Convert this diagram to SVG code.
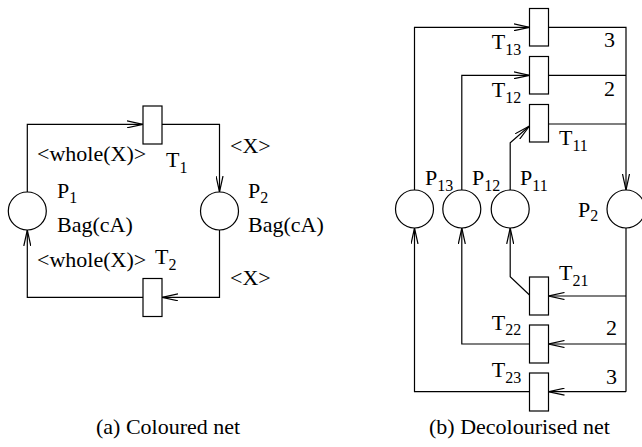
<svg xmlns="http://www.w3.org/2000/svg" width="642" height="447" viewBox="0 0 642 447">
<style>
text{font-family:"Liberation Serif","Times New Roman",serif;font-size:22px;fill:#000}
.sub{font-size:16px}
.place{fill:#fff;stroke:#000;stroke-width:1.2}
.trans{fill:#fff;stroke:#000;stroke-width:1.2}
.arc{fill:none;stroke:#000;stroke-width:1.2}
.arr{marker-end:url(#ah)}
</style>
<defs>
<marker id="ah" viewBox="0 0 16 8" refX="16" refY="4" markerWidth="16" markerHeight="8" orient="auto" markerUnits="userSpaceOnUse">
<path d="M0,0.5 L16,4 L0,7.5" fill="none" stroke="#000" stroke-width="1.2"/>
</marker>
</defs>
<rect width="642" height="447" fill="#fff"/>

<g id="connectors">
<!-- (a) -->
<path class="arc arr" d="M27.3,192 V124.3 H143"/>
<path class="arc arr" d="M162,124.3 H219.5 V192"/>
<path class="arc arr" d="M219.5,230 V297.3 H162"/>
<path class="arc arr" d="M143,297.3 H27.3 V230"/>
<!-- (b) -->
<path class="arc arr" d="M414.5,190 V27.3 H529.5"/>
<path class="arc arr" d="M461.8,190 V75.3 H529.5"/>
<path class="arc arr" d="M510.2,190 V142.7 L529.5,126"/>
<path class="arc arr" d="M548.5,27.3 H626 V190"/>
<path class="arc" d="M548.5,75.3 H626"/>
<path class="arc" d="M548.5,124 H626"/>
<path class="arc" d="M626,228 V391.7"/>
<path class="arc arr" d="M626,296 H548.5"/>
<path class="arc arr" d="M626,344 H548.5"/>
<path class="arc arr" d="M626,391.7 H548.5"/>
<path class="arc arr" d="M529.5,295 L510.2,276.7 V228"/>
<path class="arc arr" d="M529.5,344 H461.8 V228"/>
<path class="arc arr" d="M529.5,391.7 H414.5 V228"/>
</g>

<g id="a-P1"><circle class="place" cx="27.3" cy="211" r="19"/>
<text x="57" y="198">P<tspan class="sub" dy="5">1</tspan></text>
<text x="57" y="232">Bag(cA)</text></g>
<g id="a-P2"><circle class="place" cx="219.5" cy="211" r="19"/>
<text x="248" y="198">P<tspan class="sub" dy="5">2</tspan></text>
<text x="248" y="232">Bag(cA)</text></g>
<g id="a-T1"><rect class="trans" x="143" y="106" width="19" height="38"/>
<text x="166" y="167">T<tspan class="sub" dy="6">1</tspan></text></g>
<g id="a-T2"><rect class="trans" x="143" y="278.5" width="19" height="38"/>
<text x="155" y="264">T<tspan class="sub" dy="6">2</tspan></text></g>
<g id="a-labels">
<text x="37" y="161">&lt;whole(X)&gt;</text>
<text x="230" y="153">&lt;X&gt;</text>
<text x="37" y="267">&lt;whole(X)&gt;</text>
<text x="230" y="285">&lt;X&gt;</text>
</g>

<g id="b-P13"><circle class="place" cx="414.5" cy="209" r="19"/>
<text x="425" y="185">P<tspan class="sub" dy="6">13</tspan></text></g>
<g id="b-P12"><circle class="place" cx="461.8" cy="209" r="19"/>
<text x="472" y="185">P<tspan class="sub" dy="6">12</tspan></text></g>
<g id="b-P11"><circle class="place" cx="510.2" cy="209" r="19"/>
<text x="520" y="185">P<tspan class="sub" dy="6">11</tspan></text></g>
<g id="b-P2"><circle class="place" cx="626" cy="209" r="19"/>
<text x="578" y="216.5">P<tspan class="sub" dy="4">2</tspan></text></g>
<g id="b-T13"><rect class="trans" x="529.5" y="8.5" width="19" height="37.5"/>
<text x="491.7" y="49">T<tspan class="sub" dy="6">13</tspan></text>
<text x="604" y="47">3</text></g>
<g id="b-T12"><rect class="trans" x="529.5" y="56.5" width="19" height="37.5"/>
<text x="491.7" y="97">T<tspan class="sub" dy="6">12</tspan></text>
<text x="604" y="96">2</text></g>
<g id="b-T11"><rect class="trans" x="529.5" y="104.5" width="19" height="37.5"/>
<text x="559" y="145">T<tspan class="sub" dy="6">11</tspan></text></g>
<g id="b-T21"><rect class="trans" x="529.5" y="277" width="19" height="38"/>
<text x="559" y="280">T<tspan class="sub" dy="6">21</tspan></text></g>
<g id="b-T22"><rect class="trans" x="529.5" y="325" width="19" height="38"/>
<text x="491.7" y="330">T<tspan class="sub" dy="5">22</tspan></text>
<text x="606" y="335">2</text></g>
<g id="b-T23"><rect class="trans" x="529.5" y="373" width="19" height="38"/>
<text x="491.7" y="377">T<tspan class="sub" dy="6">23</tspan></text>
<text x="606" y="384">3</text></g>

<g id="captions">
<text x="96" y="434">(a) Coloured net</text>
<text x="429" y="434">(b) Decolourised net</text>
</g>
</svg>
